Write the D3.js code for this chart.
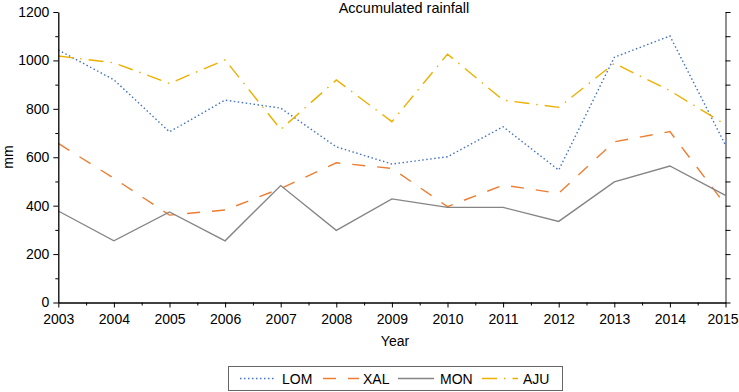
<!DOCTYPE html>
<html><head><meta charset="utf-8">
<script src="https://cdn.jsdelivr.net/npm/d3@7"></script>
<style>body{margin:0;background:#fff}svg{font-family:"Liberation Sans",Arial,sans-serif}</style>
</head><body><svg id="c" width="739" height="392"></svg>
<script>
const years = [2003,2004,2005,2006,2007,2008,2009,2010,2011,2012,2013,2014,2015];
const LOM = [1043,920,705,836,803,643,572,602,726,547,1013,1101,650];
const XAL = [657,513,361,382,471,577,554,396,485,451,664,706,403];
const MON = [378,255,374,255,483,298,428,393,393,335,498,564,443];
const AJU = [1018,990,905,1002,715,919,747,1026,836,806,988,875,735];
const seriesNames = ["LOM","XAL","MON","AJU"];
const yTicks = [0,200,400,600,800,1000,1200];

const series = [
  {name:"LOM", values:LOM, color:"#4472C4", dash:"1.5,2.5", w:1.4},
  {name:"XAL", values:XAL, color:"#ED7D31", dash:"13,12", w:1.4},
  {name:"MON", values:MON, color:"#858585", dash:null, w:1.4},
  {name:"AJU", values:AJU, color:"#EDB000", dash:"15,7,1.5,7", w:1.4}
];

const svg = d3.select("#c");
const L=58.3, R=725.5, T=12, B=302.5;
const x = d3.scaleLinear().domain([2003,2015]).range([L,R]);
const y = d3.scaleLinear().domain([0,1200]).range([B,T]);

// lines
const line = d3.line().x((d,i)=>x(years[i])).y(d=>y(d));
series.forEach(s=>{
  svg.append("path").attr("d",line(s.values)).attr("fill","none")
    .attr("stroke",s.color).attr("stroke-width",s.w)
    .attr("stroke-dasharray",s.dash);
});

// left axis
const yAx = svg.append("g").attr("transform",`translate(${L},0)`)
  .call(d3.axisLeft(y).tickValues(yTicks).tickSize(5).tickSizeOuter(0).tickFormat(d3.format("d")));
svg.append("g").attr("transform",`translate(${L},0)`)
  .call(d3.axisLeft(y).tickValues(d3.range(100,1200,200)).tickSize(3).tickSizeOuter(0).tickFormat(""))
  .select(".domain").remove();
yAx.selectAll("text").attr("font-size",14).attr("fill","#000").attr("dx",-1);

// right axis
const rAx = svg.append("g").attr("transform",`translate(${R},0)`)
  .call(d3.axisRight(y).tickValues(d3.range(0,1201,100)).tickSize(5).tickSizeOuter(0).tickFormat(""));
rAx.select(".domain").attr("stroke","#555");

// bottom axis
const xAx = svg.append("g").attr("transform",`translate(0,${B})`)
  .call(d3.axisBottom(x).tickValues(years).tickSize(5).tickSizeOuter(0).tickFormat(d3.format("d")));
svg.append("g").attr("transform",`translate(0,${B})`)
  .call(d3.axisBottom(x).tickValues(years.slice(0,-1).map(v=>v+0.5)).tickSize(3).tickSizeOuter(0).tickFormat(""))
  .select(".domain").remove();
xAx.selectAll("text").attr("font-size",14).attr("fill","#000").attr("dy","0.95em")
  .attr("dx",d=>d===2015?-3:0);

svg.selectAll(".domain").attr("stroke-width",1.3);

// title & labels
svg.append("text").attr("x",404).attr("y",13).attr("text-anchor","middle").attr("font-size",14.5).text("Accumulated rainfall");
svg.append("text").attr("x",395).attr("y",346).attr("text-anchor","middle").attr("font-size",14).text("Year");
svg.append("text").attr("transform","translate(13,157) rotate(-90)").attr("text-anchor","middle").attr("font-size",14).text("mm");

// legend
const lg = svg.append("g");
lg.append("rect").attr("x",228.5).attr("y",366.5).attr("width",334).attr("height",24).attr("fill","#fff").attr("stroke","#666").attr("stroke-width",1);
const lpos = [[240,282],[323,363],[398,440],[482,523]];
series.forEach((s,i)=>{
  lg.append("line").attr("x1",lpos[i][0]).attr("x2",lpos[i][0]+36).attr("y1",378.5).attr("y2",378.5)
    .attr("stroke",s.color).attr("stroke-width",s.w).attr("stroke-dasharray",s.dash);
  lg.append("text").attr("x",lpos[i][1]).attr("y",383.5).attr("font-size",14).text(seriesNames[i]);
});
</script></body></html>
